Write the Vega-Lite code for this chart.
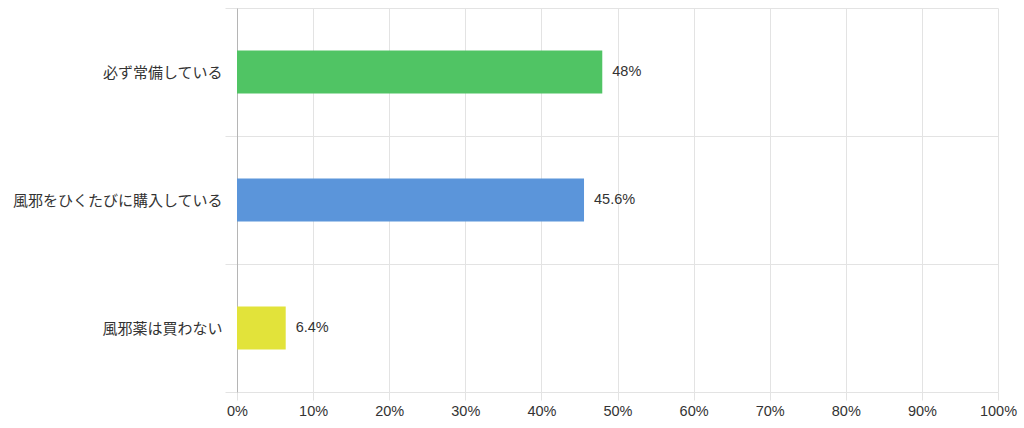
{
  "$schema": "https://vega.github.io/schema/vega-lite/v6.json",
  "width": 761,
  "height": 384,
  "autosize": {"type": "none"},
  "padding": {"left": 237, "top": 8, "right": 26, "bottom": 36},
  "background": "white",
  "data": {
    "values": [
      {"answer": "必ず常備している", "share": 0.48},
      {"answer": "風邪をひくたびに購入している", "share": 0.456},
      {"answer": "風邪薬は買わない", "share": 0.064}
    ]
  },
  "encoding": {
    "y": {
      "field": "answer",
      "type": "nominal",
      "sort": null,
      "title": null,
      "scale": {"paddingInner": 0, "paddingOuter": 0},
      "axis": {
        "tickBand": "extent",
        "grid": true,
        "gridColor": "#e3e3e3",
        "tickColor": "#e3e3e3",
        "tickSize": 12,
        "domainColor": "#b5b5b5",
        "labelPadding": 3,
        "labelFontSize": 15,
        "labelColor": "#333333",
        "labelFont": "Liberation Sans, Noto Sans CJK JP",
        "labelLimit": 400
      }
    },
    "x": {
      "field": "share",
      "type": "quantitative",
      "title": null,
      "scale": {"domain": [0, 1]},
      "axis": {
        "format": ".0%",
        "values": [0, 0.1, 0.2, 0.3, 0.4, 0.5, 0.6, 0.7, 0.8, 0.9, 1],
        "grid": true,
        "gridColor": "#e3e3e3",
        "tickColor": "#e3e3e3",
        "tickSize": 8,
        "domain": false,
        "labelOverlap": false,
        "labelFlush": false,
        "labelPadding": 4,
        "labelFontSize": 14.5,
        "labelColor": "#333333",
        "labelFont": "Liberation Sans, Noto Sans CJK JP"
      }
    }
  },
  "layer": [
    {
      "mark": {"type": "bar", "height": {"band": 0.336}},
      "encoding": {
        "color": {
          "field": "answer",
          "type": "nominal",
          "legend": null,
          "scale": {
            "domain": ["必ず常備している", "風邪をひくたびに購入している", "風邪薬は買わない"],
            "range": ["#50c464", "#5b95da", "#e2e33a"]
          }
        }
      }
    },
    {
      "mark": {
        "type": "text",
        "align": "left",
        "baseline": "middle",
        "dx": 10,
        "fontSize": 14.5,
        "color": "#333333",
        "font": "Liberation Sans, Noto Sans CJK JP"
      },
      "encoding": {
        "text": {"field": "share", "type": "quantitative", "format": ".1~%"}
      }
    }
  ],
  "config": {
    "view": {"stroke": null}
  }
}
